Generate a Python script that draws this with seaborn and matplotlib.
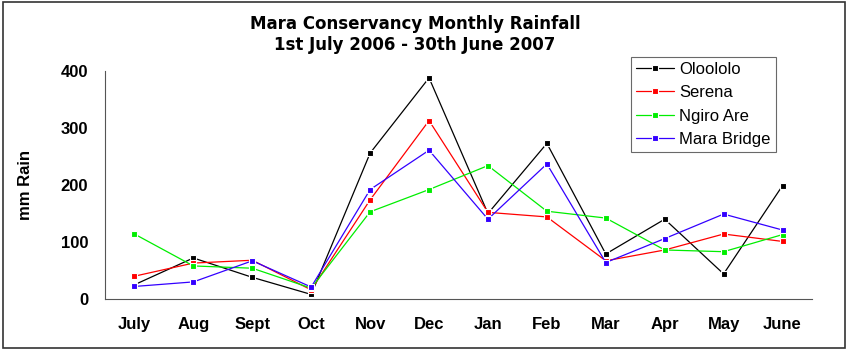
import pandas as pd
import seaborn as sns
import matplotlib.pyplot as plt
from matplotlib.patches import Rectangle
from matplotlib.ticker import FixedLocator

# Monthly rainfall (mm)
months = ["July", "Aug", "Sept", "Oct", "Nov", "Dec", "Jan", "Feb", "Mar", "Apr", "May", "June"]
ololo = [25, 72, 38, 8, 256, 388, 150, 273, 79, 140, 44, 199]
serena = [40, 63, 68, 16, 174, 313, 152, 144, 67, 86, 114, 101]
ngiro_are = [114, 58, 54, 19, 153, 192, 234, 154, 142, 86, 83, 113]
mara_bridge = [22, 30, 67, 21, 192, 261, 140, 237, 64, 106, 149, 121]

stations = ["Ololo", "Serena", "Ngiro Are", "Mara Bridge"]
legend_labels = ["Oloololo", "Serena", "Ngiro Are", "Mara Bridge"]
colors = ["#000000", "#ff0000", "#00ee00", "#3300ff"]

rows = []
for name, vals in zip(stations, [ololo, serena, ngiro_are, mara_bridge]):
    for i, v in enumerate(vals):
        rows.append({"station": name, "pos": i, "rain": v})
df = pd.DataFrame(rows)

sns.set_style("white")
plt.rcParams["font.family"] = ["Liberation Sans", "DejaVu Sans"]
plt.rcParams["text.color"] = "black"
plt.rcParams["xtick.labelcolor"] = "black"
plt.rcParams["ytick.labelcolor"] = "black"

fig = plt.figure(figsize=(8.5, 3.53), dpi=100)
ax = fig.add_axes([105 / 850, 54 / 353, 707 / 850, 228 / 353])

sns.lineplot(
    data=df, x="pos", y="rain", hue="station", hue_order=stations,
    palette=colors, marker="s", markersize=5, markeredgewidth=0.8,
    linewidth=0.9, ax=ax,
)

ax.set_xlim(-0.5, 11.5)
ax.set_ylim(0, 400)
ax.set_yticks([0, 100, 200, 300, 400])
ax.set_yticklabels(["0", "100", "200", "300", "400"], fontweight="bold", fontsize=12)
ax.set_xticks(range(12))
ax.set_xticklabels(months, fontweight="bold", fontsize=12)
ax.xaxis.set_minor_locator(FixedLocator([i - 0.5 for i in range(13)]))
ax.tick_params(axis="x", which="major", length=0, pad=13)
ax.tick_params(axis="x", which="minor", length=4.3, width=0.8, color="#555555", direction="out")
ax.tick_params(axis="y", length=3.6, width=0.8, color="#555555", direction="out", pad=8.5)
ax.set_xlabel("")
ax.set_ylabel("")

for side in ["top", "right"]:
    ax.spines[side].set_visible(False)
for side in ["left", "bottom"]:
    ax.spines[side].set_color("#555555")
    ax.spines[side].set_linewidth(0.8)

handles, _ = ax.get_legend_handles_labels()
leg = ax.legend(
    handles, legend_labels, loc="upper left",
    bbox_to_anchor=(631 / 850, 1 - 57 / 353),
    bbox_transform=fig.transFigure, fontsize=12, borderaxespad=0,
    frameon=True, fancybox=False, handlelength=2.3, handletextpad=0.3,
    labelspacing=0.5, borderpad=0.3,
)
leg.get_frame().set_edgecolor("#444444")
leg.get_frame().set_linewidth(0.8)

fig.text(26 / 850, 1 - 185 / 353, "mm Rain", rotation=90,
         ha="center", va="center", fontweight="bold", fontsize=12)
fig.text(415 / 850, 1 - 24 / 353, "Mara Conservancy Monthly Rainfall",
         ha="center", va="center", fontweight="bold", fontsize=12,
         family="DejaVu Sans")
fig.text(415 / 850, 1 - 45 / 353, "1st July 2006 - 30th June 2007",
         ha="center", va="center", fontweight="bold", fontsize=12,
         family="DejaVu Sans")

# outer border around the chart area
fig.patches.append(Rectangle((3 / 850, 5 / 353), 842 / 850, 346 / 353,
                             transform=fig.transFigure, fill=False,
                             edgecolor="#333333", linewidth=1.2))

plt.savefig("out.png", dpi=100)
